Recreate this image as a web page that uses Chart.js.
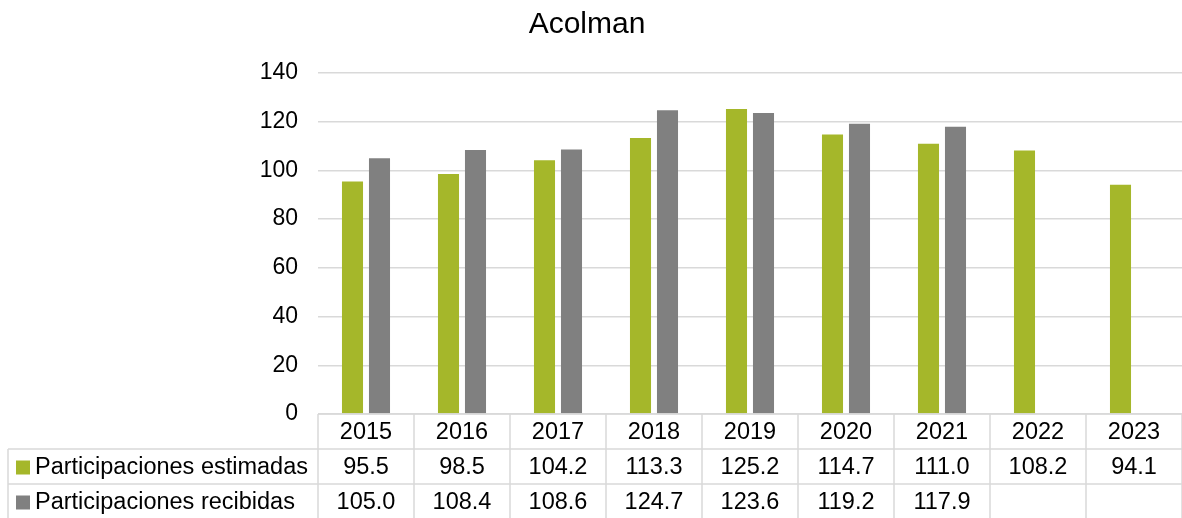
<!DOCTYPE html>
<html>
<head>
<meta charset="utf-8">
<script src="https://cdn.jsdelivr.net/npm/chart.js@4/dist/chart.umd.min.js"></script>
<style>
  html, body { margin: 0; padding: 0; background: #fff; }
  canvas { display: block; }
</style>
</head>
<body>
<canvas id="chart" width="1182" height="518"></canvas>
<script>
// Chart data
const chartTitle = 'Acolman';
const years = ['2015', '2016', '2017', '2018', '2019', '2020', '2021', '2022', '2023'];
const seriesNames = ['Participaciones estimadas', 'Participaciones recibidas'];
const estimadas = [95.5, 98.5, 104.2, 113.3, 125.2, 114.7, 111.0, 108.2, 94.1];
const recibidas = [105.0, 108.4, 108.6, 124.7, 123.6, 119.2, 117.9, null, null];
const seriesColors = ['#a5b72a', '#808080'];
const yMin = 0;
const yMax = 140;
const yStep = 20;

const fontFamily = '"Liberation Sans", Arial, sans-serif';
const gridColor = '#d9d9d9';

// Title and data table under the plot, drawn from the x scale
const tablePlugin = {
    id: 'dataTable',
    afterDraw(chart) {
        const ctx = chart.ctx;
        const xScale = chart.scales.x;
        const top = chart.chartArea.bottom;
        const left = xScale.left;
        const right = xScale.right;
        const colW = (right - left) / years.length;
        const rowH = 35;
        const bottom = chart.height;

        ctx.save();

        // title
        ctx.fillStyle = '#000';
        ctx.font = '30px ' + fontFamily;
        ctx.textAlign = 'center';
        ctx.textBaseline = 'alphabetic';
        ctx.fillText(chartTitle, 587, 33);

        // grid lines of the table
        ctx.strokeStyle = gridColor;
        ctx.lineWidth = 1.5;
        ctx.beginPath();
        ctx.moveTo(left, top);
        ctx.lineTo(right, top);
        for (let r = 1; r <= 2; r++) {
            ctx.moveTo(8, top + r * rowH);
            ctx.lineTo(right, top + r * rowH);
        }
        for (let i = 0; i <= years.length; i++) {
            const x = left + i * colW;
            ctx.moveTo(x, top);
            ctx.lineTo(x, bottom);
        }
        ctx.moveTo(8, top + rowH);
        ctx.lineTo(8, bottom);
        ctx.stroke();

        // header row
        ctx.fillStyle = '#000';
        ctx.font = '23.5px ' + fontFamily;
        ctx.textAlign = 'center';
        ctx.textBaseline = 'middle';
        years.forEach((y, i) => {
            ctx.fillText(y, xScale.getPixelForValue(i), top + rowH / 2 + 1);
        });

        // series rows
        const rows = [estimadas, recibidas];
        rows.forEach((values, r) => {
            const cy = top + rowH * (r + 1) + rowH / 2 + 1;
            ctx.fillStyle = seriesColors[r];
            ctx.fillRect(16, cy - 7, 14, 14);
            ctx.fillStyle = '#000';
            ctx.textAlign = 'left';
            ctx.fillText(seriesNames[r], 35, cy);
            ctx.textAlign = 'center';
            values.forEach((v, i) => {
                if (v === null) return;
                ctx.fillText(v.toFixed(1), xScale.getPixelForValue(i), cy);
            });
        });

        ctx.restore();
    }
};

const chartCtx = document.getElementById('chart').getContext('2d');

const chart = new Chart(chartCtx, {
    type: 'bar',
    data: {
        labels: years,
        datasets: [{
            label: seriesNames[0],
            data: estimadas,
            backgroundColor: seriesColors[0],
            borderWidth: 0,
            categoryPercentage: 0.5625,
            barPercentage: 0.78
        }, {
            label: seriesNames[1],
            data: recibidas,
            backgroundColor: seriesColors[1],
            borderWidth: 0,
            categoryPercentage: 0.5625,
            barPercentage: 0.78
        }]
    },
    options: {
        responsive: false,
        animation: false,
        layout: {
            padding: { top: 73, bottom: 104, left: 0, right: 0 }
        },
        scales: {
            x: {
                display: false
            },
            y: {
                min: yMin,
                max: yMax,
                afterFit: function(scale) {
                    scale.width = 318;
                },
                ticks: {
                    stepSize: yStep,
                    color: '#000',
                    padding: 20,
                    font: { family: fontFamily, size: 23 }
                },
                grid: {
                    color: gridColor,
                    lineWidth: 1.5,
                    drawTicks: false
                },
                border: { display: false }
            }
        },
        plugins: {
            legend: { display: false },
            title: { display: false },
            tooltip: { enabled: false }
        }
    },
    plugins: [tablePlugin]
});
</script>
</body>
</html>
